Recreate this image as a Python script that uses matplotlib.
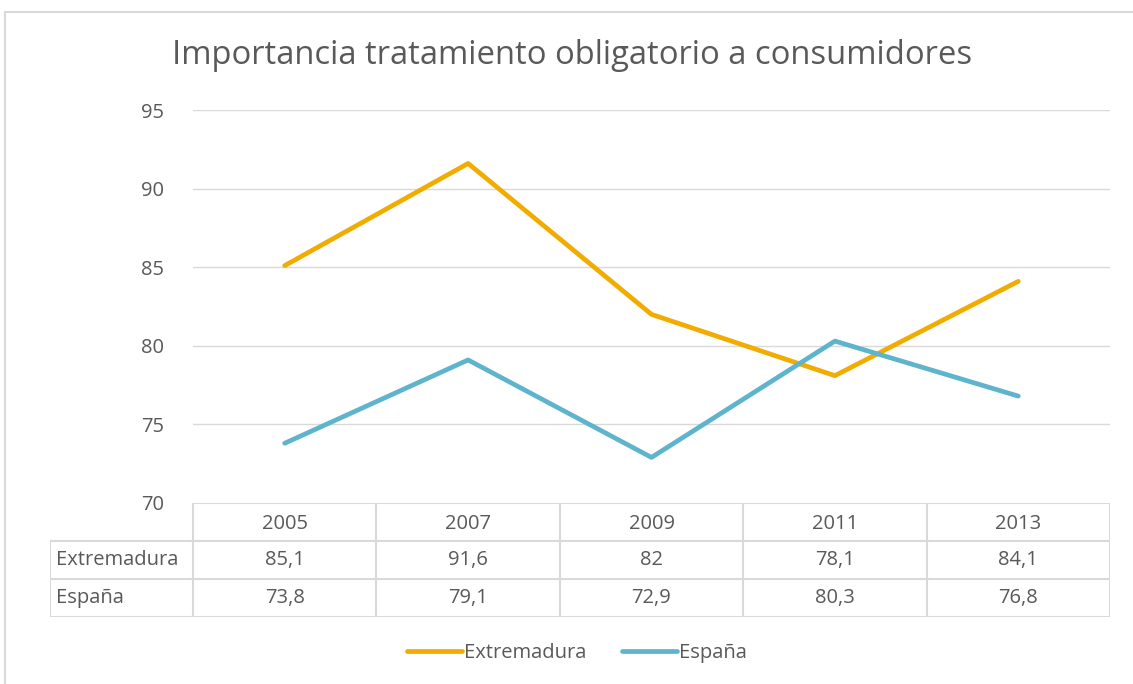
import matplotlib.pyplot as plt
from matplotlib.patches import Rectangle

years = ["2005", "2007", "2009", "2011", "2013"]
extremadura = [85.1, 91.6, 82, 78.1, 84.1]
espana = [73.8, 79.1, 72.9, 80.3, 76.8]
series_names = ["Extremadura", "España"]
yticks = [70, 75, 80, 85, 90, 95]

ORANGE = "#F2AC00"
BLUE = "#5EB4CC"
GRID = "#D9D9D9"
TEXT = "#595959"
FS = 14.5

plt.rcParams['font.family'] = ['Open Sans', 'DejaVu Sans']

W, H = 1133, 684
fig = plt.figure(figsize=(W / 100, H / 100), dpi=100)

# outer chart frame
fig.patches.append(Rectangle((5 / W, -0.05), 1.2, 1 - 12 / H + 0.05,
                             transform=fig.transFigure, fill=False,
                             edgecolor=GRID, lw=1.5))

fig.text(572 / W, 1 - 56 / H, "Importancia tratamiento obligatorio a consumidores",
         ha='center', va='center', fontsize=23.6, color=TEXT)

# plot area
ax = fig.add_axes([193 / W, 1 - 503 / H, (1110 - 193) / W, (503 - 110) / H])
x = [i + 0.5 for i in range(len(years))]
ax.plot(x, extremadura, color=ORANGE, lw=3.4, solid_capstyle='round', label=series_names[0])
ax.plot(x, espana, color=BLUE, lw=3.4, solid_capstyle='round', label=series_names[1])
ax.set_xlim(0, len(years))
ax.set_ylim(70, 95)
ax.set_yticks(yticks)
for t in yticks[1:]:
    ax.axhline(t, color=GRID, lw=1, zorder=0)
ax.set_xticks([])
ax.tick_params(axis='y', length=0, pad=21, labelsize=FS, labelcolor=TEXT)
for s in ax.spines.values():
    s.set_visible(False)

# data table below the plot
left_px = 50
col_w = (1110 - 193) / len(years)
x0 = -(193 - left_px) / col_w
tab = fig.add_axes([left_px / W, 1 - 617 / H, (1110 - left_px) / W, (617 - 503) / H])
tab.set_xlim(x0, len(years))
tab.set_ylim(3, 0)
tab.axis('off')
lc = dict(color=GRID, lw=1.5)
tab.plot([0, len(years)], [0, 0], **lc)
for r in (1, 2, 3):
    tab.plot([x0, len(years)], [r, r], **lc)
for c in range(len(years) + 1):
    tab.plot([c, c], [0, 3], **lc)
tab.plot([x0, x0], [1, 3], **lc)

for i, yr in enumerate(years):
    tab.text(i + 0.5, 0.55, yr, ha='center', va='center', fontsize=FS, color=TEXT)
for r, (name, vals) in enumerate(zip(series_names, [extremadura, espana]), start=1):
    tab.text(x0 + 0.03, r + 0.5, name, ha='left', va='center', fontsize=FS, color=TEXT)
    for i, v in enumerate(vals):
        lab = f"{v:g}".replace(".", ",")
        tab.text(i + 0.5, r + 0.5, lab, ha='center', va='center', fontsize=FS, color=TEXT)

fig.legend(loc='center', bbox_to_anchor=(577 / W, 1 - 653 / H), ncol=2, frameon=False,
           fontsize=FS, labelcolor=TEXT, handlelength=2.7, handletextpad=0.1,
           columnspacing=1.8)

fig.savefig("out.png", dpi=100)
